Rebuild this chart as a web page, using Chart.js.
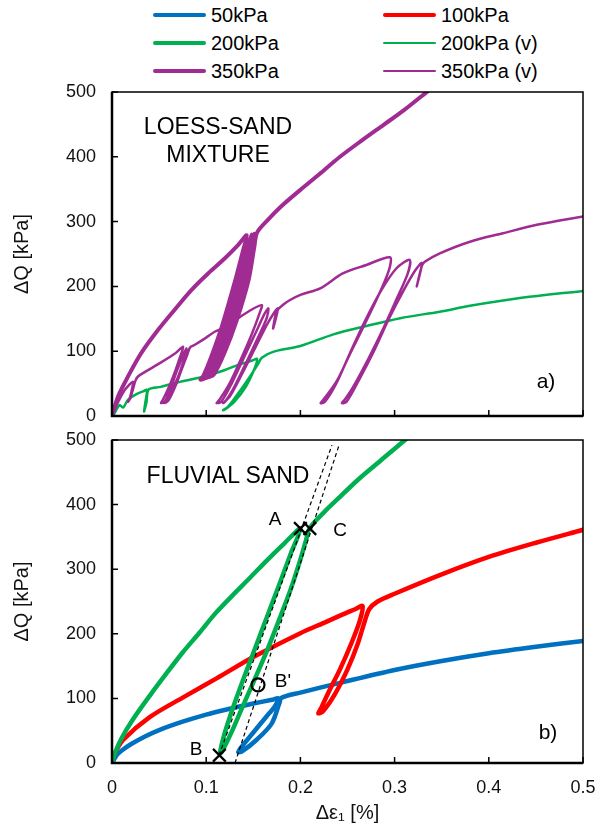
<!DOCTYPE html>
<html>
<head>
<meta charset="utf-8">
<script src="https://cdn.jsdelivr.net/npm/chart.js@4.4.0/dist/chart.umd.min.js"></script>
<style>
  body { margin: 0; background: #fff; font-family: "Liberation Sans", Arial, sans-serif; color: #000; }
  #page { position: relative; width: 603px; height: 835px; overflow: hidden; }
  .box { position: absolute; left: 0; width: 603px; }
  .txt { position: absolute; transform: translate(-50%, -50%); line-height: 1; white-space: nowrap; z-index: 2; }
  .sw { position: absolute; border-radius: 2px; }
  .lt { position: absolute; font-size: 20px; line-height: 1; transform: translateY(-50%); white-space: nowrap; }
</style>
</head>
<body>
<div id="page">
  <div id="legend"></div>
  <div class="box" style="top:80px;height:350px"><canvas id="loess"></canvas></div>
  <div class="box" style="top:428px;height:407px"><canvas id="sand"></canvas></div>

  <div class="txt" style="left:218px;top:126px;font-size:23px">LOESS-SAND</div>
  <div class="txt" style="left:218px;top:154px;font-size:23px">MIXTURE</div>
  <div class="txt" style="left:546px;top:380px;font-size:21px">a)</div>
  <div class="txt" style="left:228px;top:475px;font-size:23px">FLUVIAL SAND</div>
  <div class="txt" style="left:548px;top:731px;font-size:21px">b)</div>
  <div class="txt" style="left:275px;top:518px;font-size:19px">A</div>
  <div class="txt" style="left:340px;top:529px;font-size:19px">C</div>
  <div class="txt" style="left:283px;top:680px;font-size:19px">B'</div>
  <div class="txt" style="left:196px;top:748px;font-size:19px">B</div>
</div>

<script>
// ---- a) loess-sand mixture ----
const loess350Eps = [0, 0.0064, 0.017, 0.031, 0.049, 0.0665, 0.084, 0.102, 0.1196, 0.134, 0.143,
  0.139, 0.130, 0.117, 0.105, 0.097, 0.094,
  0.100, 0.111, 0.124, 0.137, 0.145, 0.148,
  0.143, 0.134, 0.121, 0.109, 0.101, 0.098,
  0.104, 0.115, 0.128, 0.141, 0.148, 0.151,
  0.147, 0.138, 0.125, 0.113, 0.105, 0.102,
  0.108, 0.119, 0.132, 0.145, 0.151, 0.154,
  0.165, 0.18, 0.2, 0.22, 0.242, 0.265, 0.288, 0.31, 0.335];
const loess350Q = [0, 30, 61, 97, 133, 164, 194, 220, 243, 264, 279,
  255, 205, 140, 90, 62, 56,
  60, 92, 142, 205, 255, 280,
  255, 205, 140, 90, 63, 58,
  62, 94, 144, 207, 257, 281,
  256, 206, 141, 91, 64, 60,
  64, 96, 146, 210, 260, 283,
  302, 324, 349, 373, 400, 425, 449, 472, 501];

const loess350vEps = [0, 0.006, 0.0135, 0.0223, 0.021, 0.019, 0.017, 0.019, 0.022, 0.025, 0.0276, 0.035, 0.049, 0.0665, 0.0755,
  0.072, 0.066, 0.059, 0.054, 0.052,
  0.056, 0.062, 0.069, 0.075, 0.079,
  0.076, 0.070, 0.063, 0.058, 0.056,
  0.060, 0.067, 0.074, 0.080, 0.083,
  0.088, 0.1, 0.109, 0.12, 0.136, 0.148, 0.159,
  0.157, 0.148, 0.136, 0.124, 0.114, 0.111,
  0.116, 0.127, 0.140, 0.153, 0.162, 0.166,
  0.164, 0.153, 0.140, 0.128, 0.120, 0.118,
  0.125, 0.138, 0.152, 0.166, 0.176,
  0.171, 0.175,
  0.182, 0.189, 0.2, 0.221, 0.245, 0.27, 0.295,
  0.294, 0.281, 0.267, 0.253, 0.239, 0.226, 0.2215,
  0.226, 0.238, 0.252, 0.268, 0.285, 0.302, 0.316,
  0.314, 0.302, 0.288, 0.272, 0.256, 0.247, 0.244,
  0.249, 0.262, 0.278, 0.294, 0.310, 0.322, 0.329,
  0.3235, 0.329,
  0.332, 0.348, 0.38, 0.415, 0.451, 0.5];
const loess350vQ = [0, 20, 40, 53, 40, 28, 22, 26, 40, 55, 61, 68, 80, 96, 107,
  90, 65, 40, 25, 20,
  22, 42, 70, 92, 104,
  85, 60, 38, 24, 20,
  24, 45, 72, 95, 106,
  110, 121, 130, 137, 153, 164, 171,
  160, 125, 85, 48, 25, 20,
  22, 50, 90, 130, 158, 166,
  150, 115, 75, 40, 22, 20,
  30, 65, 105, 145, 166,
  135, 162,
  172, 179, 187, 197, 220, 233, 245,
  225, 180, 138, 97, 55, 28, 20,
  22, 50, 95, 145, 192, 228, 241,
  220, 180, 135, 88, 45, 25, 20,
  22, 55, 100, 150, 195, 225, 236,
  200, 232,
  238, 251, 269, 282, 295, 308];

const loess200vEps = [0, 0.003, 0.008, 0.0117, 0.017, 0.025, 0.033, 0.037, 0.0355, 0.034, 0.0365, 0.039,
  0.052, 0.073, 0.098, 0.12, 0.134, 0.148, 0.154,
  0.151, 0.142, 0.13, 0.121, 0.118,
  0.123, 0.134, 0.146, 0.155, 0.159,
  0.171, 0.2, 0.235, 0.27, 0.306, 0.348, 0.38, 0.433, 0.5];
const loess200vQ = [0, 5, 17, 13, 25, 33, 38, 40, 22, 7, 20, 41,
  45, 53, 61, 71, 79, 85, 88,
  72, 45, 22, 11, 9,
  14, 35, 60, 80, 90,
  99, 108, 126, 139, 151, 161, 170, 182, 193];

// ---- b) fluvial sand ----
const sand50Eps = [0, 0.005, 0.01, 0.02, 0.035, 0.05, 0.075, 0.1, 0.125, 0.15, 0.17, 0.1766,
  0.173, 0.164, 0.1465, 0.137, 0.134,
  0.138, 0.1536, 0.1695, 0.1776, 0.18,
  0.2, 0.242, 0.3, 0.35, 0.4, 0.45, 0.5];
const sand50Q = [0, 12, 19, 29, 41, 51, 64, 75, 84, 92, 98, 100,
  88, 72, 41, 24, 17,
  18, 36, 61, 92, 101,
  109, 124, 144, 158, 170, 180, 189];

const sand100Eps = [0, 0.003, 0.012, 0.04, 0.076, 0.111, 0.15, 0.2, 0.225, 0.245, 0.258, 0.266,
  0.263, 0.254, 0.242, 0.230, 0.222, 0.219,
  0.224, 0.236, 0.250, 0.261, 0.268, 0.273,
  0.282, 0.3, 0.35, 0.4, 0.45, 0.5];
const sand100Q = [0, 15, 36, 71, 102, 131, 164, 201, 217, 230, 238, 243,
  220, 185, 145, 110, 85, 77,
  80, 105, 145, 185, 218, 238,
  250, 262, 292, 319, 341, 361];

const sand200Eps = [0, 0.003, 0.01, 0.022, 0.04, 0.058, 0.075, 0.093, 0.11, 0.129, 0.146, 0.164, 0.183, 0.2,
  0.19, 0.178, 0.165, 0.152, 0.14, 0.129, 0.12, 0.1146,
  0.117, 0.126, 0.138, 0.151, 0.164, 0.177, 0.19, 0.2, 0.206, 0.21,
  0.225, 0.242, 0.26, 0.285, 0.311, 0.32];
const sand200Q = [0, 15, 38, 67, 104, 139, 171, 202, 232, 261, 286, 313, 340, 363,
  325, 278, 228, 178, 132, 88, 48, 15,
  18, 45, 85, 128, 172, 220, 270, 315, 345, 364,
  388, 412, 437, 468, 500, 512];

// dashed lines B-A and B'-C, point markers A, C, B, B'
const lineBAEps = [0.1136, 0.2335];
const lineBAQ = [12, 492];
const lineBCEps = [0.1306, 0.241];
const lineBCQ = [0, 492];
const crossEps = [0.114, 0.2, 0.21];
const crossQ = [12, 363, 363];
const circleEps = [0.155];
const circleQ = [121];

const yTicks = [0, 100, 200, 300, 400, 500];
const xTicks = [0, 0.1, 0.2, 0.3, 0.4, 0.5];

const FONT = '"Liberation Sans", Arial, sans-serif';
const BLUE = '#0070C0', RED = '#FF0000', GREEN = '#00B050', PURPLE = '#A02B93';

const pts = (xs, ys) => xs.map((x, i) => ({ x, y: ys[i] }));

function curve(xs, ys, color, width) {
  return {
    data: pts(xs, ys), showLine: true, borderColor: color, borderWidth: width,
    pointRadius: 0, tension: 0.3, fill: false,
    borderCapStyle: 'round', borderJoinStyle: 'round'
  };
}

// legend (html)
const legendItems = [
  ['50kPa', BLUE, 4.5, 153, 15], ['100kPa', RED, 4.5, 383, 15],
  ['200kPa', GREEN, 4.5, 153, 43], ['200kPa (v)', GREEN, 2.5, 383, 43],
  ['350kPa', PURPLE, 4.5, 153, 71], ['350kPa (v)', PURPLE, 2.5, 383, 71]
];
const leg = document.getElementById('legend');
legendItems.forEach(([label, color, w, x, y]) => {
  const s = document.createElement('div');
  s.className = 'sw';
  s.style.cssText = `left:${x}px;top:${y - w / 2}px;width:53px;height:${w}px;background:${color}`;
  leg.appendChild(s);
  const t = document.createElement('div');
  t.className = 'lt';
  t.style.cssText = `left:${x + 58}px;top:${y}px`;
  t.textContent = label;
  leg.appendChild(t);
});

// frame and inward tick marks
const framePlugin = {
  id: 'frame',
  afterDatasetsDraw(chart) {
    const { ctx, chartArea: a, scales: { x, y } } = chart;
    ctx.save();
    ctx.strokeStyle = '#000';
    ctx.lineWidth = 1.5;
    ctx.strokeRect(a.left, a.top, a.right - a.left, a.bottom - a.top);
    ctx.lineWidth = 2.5;
    ctx.beginPath();
    ctx.moveTo(a.left, a.top);
    ctx.lineTo(a.left, a.bottom);
    ctx.lineTo(a.right, a.bottom);
    ctx.stroke();
    ctx.lineWidth = 1.5;
    ctx.beginPath();
    xTicks.forEach(v => {
      const px = x.getPixelForValue(v);
      ctx.moveTo(px, a.bottom);
      ctx.lineTo(px, a.bottom - 6);
    });
    yTicks.forEach(v => {
      const py = y.getPixelForValue(v);
      ctx.moveTo(a.left, py);
      ctx.lineTo(a.left + 6, py);
    });
    ctx.stroke();
    ctx.restore();
  }
};

function scales(showX, xHeight) {
  return {
    x: {
      type: 'linear', min: 0, max: 0.5,
      grid: { display: false, drawTicks: false }, border: { display: false },
      ticks: {
        display: showX, stepSize: 0.1, padding: 14, maxRotation: 0, autoSkip: false,
        color: '#111', font: { size: 18, family: FONT },
        callback: v => String(+v.toFixed(1))
      },
      title: {
        display: showX, text: 'Δε₁ [%]', color: '#111',
        font: { size: 20, family: FONT }, padding: { top: 0, bottom: 10 }
      },
      afterFit: s => { s.height = xHeight; s.paddingLeft = 0; s.paddingRight = 0; }
    },
    y: {
      type: 'linear', min: 0, max: 500,
      grid: { display: false, drawTicks: false }, border: { display: false },
      ticks: { stepSize: 100, padding: 16, color: '#111', font: { size: 18, family: FONT } },
      title: {
        display: true, text: 'ΔQ [kPa]', color: '#111',
        font: { size: 20, family: FONT }, padding: { top: 10, bottom: 0 }
      },
      afterFit: s => { s.width = 112; s.paddingTop = 0; s.paddingBottom = 0; }
    }
  };
}

function baseOptions(showX, xHeight) {
  return {
    responsive: true, maintainAspectRatio: false, animation: false, devicePixelRatio: 1,
    layout: { padding: { left: 0, right: 20, top: 12, bottom: 0 } },
    plugins: { legend: { display: false }, tooltip: { enabled: false } },
    scales: scales(showX, xHeight)
  };
}

new Chart(document.getElementById('loess'), {
  type: 'scatter',
  data: {
    datasets: [
      curve(loess350Eps, loess350Q, PURPLE, 4),
      curve(loess350vEps, loess350vQ, PURPLE, 2.5),
      curve(loess200vEps, loess200vQ, GREEN, 2.5)
    ]
  },
  options: baseOptions(false, 14),
  plugins: [framePlugin]
});

new Chart(document.getElementById('sand'), {
  type: 'scatter',
  data: {
    datasets: [
      { data: pts(crossEps, crossQ), pointStyle: 'crossRot', pointRadius: 9, borderColor: '#000', borderWidth: 2.2, showLine: false },
      { data: pts(circleEps, circleQ), pointStyle: 'circle', pointRadius: 6.5, borderColor: '#000', backgroundColor: 'rgba(0,0,0,0)', borderWidth: 2.2, showLine: false },
      { data: pts(lineBAEps, lineBAQ), showLine: true, borderColor: '#000', borderWidth: 1.2, borderDash: [4, 3], pointRadius: 0 },
      { data: pts(lineBCEps, lineBCQ), showLine: true, borderColor: '#000', borderWidth: 1.2, borderDash: [4, 3], pointRadius: 0 },
      curve(sand200Eps, sand200Q, GREEN, 4.5),
      curve(sand100Eps, sand100Q, RED, 4.5),
      curve(sand50Eps, sand50Q, BLUE, 4.5)
    ]
  },
  options: baseOptions(true, 72),
  plugins: [framePlugin]
});
</script>
</body>
</html>
